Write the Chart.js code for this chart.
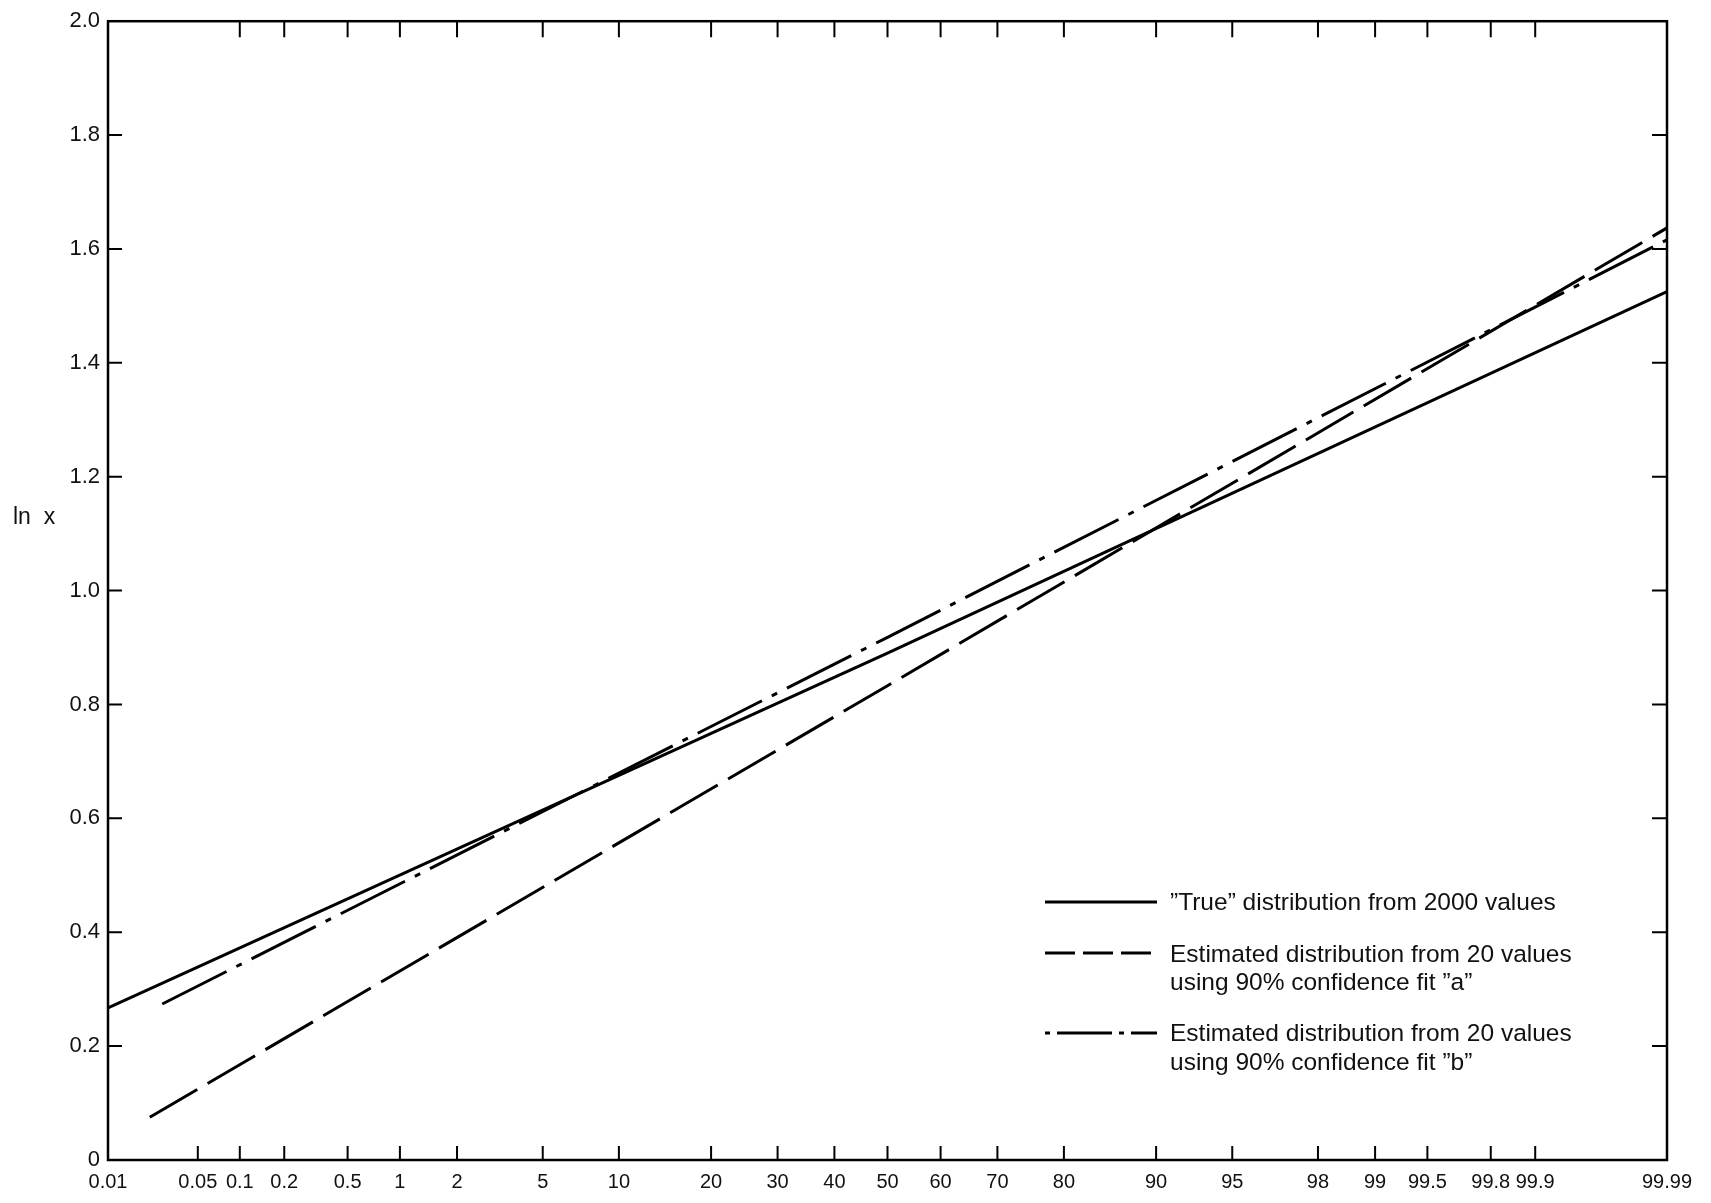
<!DOCTYPE html>
<html>
<head>
<meta charset="utf-8">
<script src="https://cdn.jsdelivr.net/npm/chart.js@4.4.1/dist/chart.umd.min.js"></script>
<style>
  body { margin: 0; background: #fff; }
  canvas { display: block; }
</style>
</head>
<body>
<canvas id="prob_chart" width="1711" height="1203"></canvas>
<script>
// probability ticks (percent) and their labels
var xTickPct = [0.01, 0.05, 0.1, 0.2, 0.5, 1, 2, 5, 10, 20, 30, 40, 50, 60, 70, 80, 90, 95, 98, 99, 99.5, 99.8, 99.9, 99.99]
var xTickLabels = ['0.01', '0.05', '0.1', '0.2', '0.5', '1', '2', '5', '10', '20', '30', '40', '50', '60', '70', '80', '90', '95', '98', '99', '99.5', '99.8', '99.9', '99.99']

// "True" distribution from 2000 values
var truePct = [0.01, 50, 99.99]
var trueLnx = [0.267, 0.89, 1.525]
// fit "a"
var fitAPct = [0.0216, 50, 99.99]
var fitALnx = [0.075, 0.833, 1.637]
// fit "b"
var fitBPct = [0.027, 50, 99.99]
var fitBLnx = [0.274, 0.918, 1.616]

var legendLabels = [
    ['\u201DTrue\u201D distribution from 2000 values'],
    ['Estimated distribution from 20 values', 'using 90% confidence fit \u201Da\u201D'],
    ['Estimated distribution from 20 values', 'using 90% confidence fit \u201Db\u201D']
]

// inverse normal cdf (Acklam), percent -> z
function zOf(pct) {
    var p = pct / 100
    var a = [-3.969683028665376e+01, 2.209460984245205e+02, -2.759285104469687e+02, 1.383577518672690e+02, -3.066479806614716e+01, 2.506628277459239e+00]
    var b = [-5.447609879822406e+01, 1.615858368580409e+02, -1.556989798598866e+02, 6.680131188771972e+01, -1.328068155288572e+01]
    var c = [-7.784894002430293e-03, -3.223964580411365e-01, -2.400758277161838e+00, -2.549732539343734e+00, 4.374664141464968e+00, 2.938163982698783e+00]
    var d = [7.784695709041462e-03, 3.224671290700398e-01, 2.445134137142996e+00, 3.754408661907416e+00]
    var q, r
    if (p < 0.02425) {
        q = Math.sqrt(-2 * Math.log(p))
        return (((((c[0]*q+c[1])*q+c[2])*q+c[3])*q+c[4])*q+c[5]) / ((((d[0]*q+d[1])*q+d[2])*q+d[3])*q+1)
    }
    if (p > 1 - 0.02425) {
        q = Math.sqrt(-2 * Math.log(1 - p))
        return -(((((c[0]*q+c[1])*q+c[2])*q+c[3])*q+c[4])*q+c[5]) / ((((d[0]*q+d[1])*q+d[2])*q+d[3])*q+1)
    }
    q = p - 0.5
    r = q * q
    return (((((a[0]*r+a[1])*r+a[2])*r+a[3])*r+a[4])*r+a[5])*q / (((((b[0]*r+b[1])*r+b[2])*r+b[3])*r+b[4])*r+1)
}

function toPoints(pcts, vals) {
    return pcts.map(function(p, i) { return { x: zOf(p), y: vals[i] } })
}

var frameAndLegend = {
    id: 'frameAndLegend',
    afterDraw: function(chart) {
        var ctx = chart.ctx
        var area = chart.chartArea
        var xs = chart.scales.x
        var ys = chart.scales.y
        ctx.save()
        ctx.strokeStyle = '#000'
        ctx.lineWidth = 2.5
        ctx.setLineDash([])
        ctx.strokeRect(area.left, area.top, area.right - area.left, area.bottom - area.top)

        // inward tick marks
        ctx.lineWidth = 2
        ctx.beginPath()
        xTickPct.forEach(function(p, i) {
            if (i == 0 || i == xTickPct.length - 1) return
            var px = xs.getPixelForValue(zOf(p))
            ctx.moveTo(px, area.bottom)
            ctx.lineTo(px, area.bottom - 14)
            if (i > 1) {
                ctx.moveTo(px, area.top)
                ctx.lineTo(px, area.top + 16)
            }
        })
        for (var k = 1; k < 10; k++) {
            var py = ys.getPixelForValue(k * 0.2)
            ctx.moveTo(area.left, py)
            ctx.lineTo(area.left + 14, py)
            ctx.moveTo(area.right, py)
            ctx.lineTo(area.right - 15, py)
        }
        ctx.stroke()

        // axis title
        ctx.fillStyle = '#111'
        ctx.font = '23px "Liberation Sans", Arial, sans-serif'
        ctx.textAlign = 'left'
        ctx.textBaseline = 'middle'
        ctx.fillText('ln  x', 13, 518)

        // legend
        var rows = [
            { y: 902, texts: [903], dash: [], offset: 0 },
            { y: 953, texts: [955, 983], dash: [30, 8], offset: 0 },
            { y: 1033, texts: [1034, 1063], dash: [55, 7, 5, 7], offset: 62 }
        ]
        ctx.font = '24.5px "Liberation Sans", Arial, sans-serif'
        rows.forEach(function(row, i) {
            ctx.beginPath()
            ctx.lineWidth = 3
            ctx.setLineDash(row.dash)
            ctx.lineDashOffset = row.offset
            ctx.moveTo(1045, row.y)
            ctx.lineTo(1157, row.y)
            ctx.stroke()
            ctx.setLineDash([])
            ctx.lineDashOffset = 0
            legendLabels[i].forEach(function(t, j) {
                ctx.fillText(t, 1170, row.texts[j])
            })
        })
        ctx.restore()
    }
}

var chart_target = document.getElementById('prob_chart')
var probChart = new Chart(chart_target, {
    type: 'line',
    data: {
        datasets: [
            {
                label: 'True',
                data: toPoints(truePct, trueLnx),
                borderColor: '#000',
                borderWidth: 3,
                pointRadius: 0,
                borderDash: []
            },
            {
                label: 'Fit a',
                data: toPoints(fitAPct, fitALnx),
                borderColor: '#000',
                borderWidth: 3,
                pointRadius: 0,
                borderDash: [55, 12]
            },
            {
                label: 'Fit b',
                data: toPoints(fitBPct, fitBLnx),
                borderColor: '#000',
                borderWidth: 3,
                pointRadius: 0,
                borderDash: [72, 11, 6, 11]
            }
        ]
    },
    options: {
        responsive: false,
        animation: false,
        layout: { padding: { left: 0, right: 44, top: 15, bottom: 0 } },
        plugins: {
            legend: { display: false },
            tooltip: { enabled: false }
        },
        scales: {
            x: {
                type: 'linear',
                min: zOf(0.01),
                max: zOf(99.99),
                grid: { display: false, drawTicks: false },
                border: { display: false },
                afterBuildTicks: function(scale) {
                    scale.ticks = xTickPct.map(function(p) { return { value: zOf(p) } })
                },
                afterFit: function(scale) { scale.height = 43 },
                ticks: {
                    autoSkip: false,
                    maxRotation: 0,
                    padding: 10,
                    color: '#111',
                    font: { family: '"Liberation Sans", Arial, sans-serif', size: 20 },
                    callback: function(v, i) { return xTickLabels[i] }
                }
            },
            y: {
                min: 0,
                max: 2,
                grid: { display: false, drawTicks: false },
                border: { display: false },
                afterFit: function(scale) { scale.width = 108 },
                ticks: {
                    stepSize: 0.2,
                    padding: 8,
                    color: '#111',
                    font: { family: '"Liberation Sans", Arial, sans-serif', size: 22 },
                    callback: function(v) { return Math.abs(v) < 1e-9 ? '0' : v.toFixed(1) }
                }
            }
        }
    },
    plugins: [frameAndLegend]
})
</script>
</body>
</html>
